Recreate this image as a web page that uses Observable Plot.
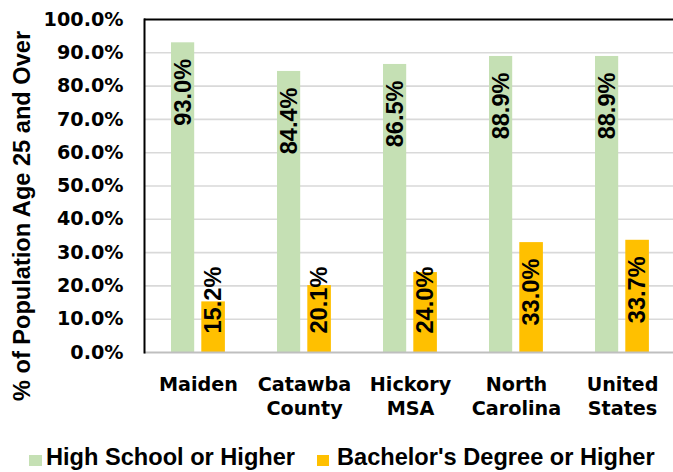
<!DOCTYPE html>
<html>
<head>
<meta charset="utf-8">
<script src="https://cdn.jsdelivr.net/npm/d3@7"></script>
<script src="https://cdn.jsdelivr.net/npm/@observablehq/plot@0.6"></script>
<style>
  html, body { margin: 0; padding: 0; background: #fff; overflow: hidden; }
  #wrap { position: relative; width: 673px; height: 472px; }
  .lg-sw { position: absolute; width: 12.4px; height: 11.3px; top: 454.7px; }
  .lg-tx { position: absolute; top: 445.5px; font-family: "Liberation Sans", Arial, sans-serif; font-weight: bold; font-size: 23.6px; line-height: 1; white-space: nowrap; color: #000; }
</style>
</head>
<body>
<div id="wrap"></div>
<script>
const categories = ["Maiden", "Catawba County", "Hickory MSA", "North Carolina", "United States"];
const tickLabels = ["Maiden", "Catawba\nCounty", "Hickory\nMSA", "North\nCarolina", "United\nStates"];
const highSchool = [0.930, 0.844, 0.865, 0.889, 0.889];
const bachelor = [0.152, 0.201, 0.240, 0.330, 0.337];
const seriesNames = ["High School or Higher", "Bachelor's Degree or Higher"];
const seriesColors = ["#C5E0B4", "#FFC000"];
const yTicks = [0, 0.1, 0.2, 0.3, 0.4, 0.5, 0.6, 0.7, 0.8, 0.9, 1.0];
const yTitle = "% of Population Age 25 and Over";

const hsData = categories.map((c, i) => ({cat: c, v: highSchool[i]}));
const baData = categories.map((c, i) => ({cat: c, v: bachelor[i]}));

const marginTop = 19, height = 430, marginBottom = 78;
const plotH = height - marginTop - marginBottom;
const fmt = d3.format(".1%");
// label fits inside end of bar when bar tall enough
const fits = d => d.v * plotH >= 102;

const labelFont = {fontFamily: "Liberation Sans, Arial, sans-serif", fontWeight: "bold", fontSize: 23.6, fill: "black"};
const axisFont = {fontFamily: "DejaVu Sans, sans-serif", fontWeight: "bold", fontSize: 19.2, fill: "black"};

function labels(data, dx) {
  return [
    Plot.text(data.filter(fits), {x: "cat", y: "v", text: d => fmt(d.v), rotate: -90, textAnchor: "end", dy: 16, dx, ...labelFont}),
    Plot.text(data.filter(d => !fits(d)), {x: "cat", y: () => 0, text: d => fmt(d.v), rotate: -90, textAnchor: "start", dy: -19, dx, ...labelFont})
  ];
}

const chart = Plot.plot({
  width: 673,
  height,
  marginTop,
  marginBottom,
  marginLeft: 144,
  marginRight: 0,
  style: {background: "white"},
  x: {domain: categories, range: [145, 675.2], padding: 0, axis: null},
  y: {domain: [0, 1], axis: null},
  marks: [
    Plot.gridY(yTicks.slice(1, -1), {stroke: "#D9D9D9", strokeOpacity: 1, strokeWidth: 1.6}),
    Plot.barY(hsData, {x: "cat", y: "v", fill: seriesColors[0], insetLeft: 26, insetRight: 56.8}),
    Plot.barY(baData, {x: "cat", y: "v", fill: seriesColors[1], insetLeft: 56.3, insetRight: 26.1}),
    Plot.ruleY([0], {stroke: "#BFBFBF", strokeWidth: 2}),
    Plot.ruleY([1], {stroke: "black", strokeWidth: 2}),
    Plot.frame({anchor: "left", stroke: "black", strokeWidth: 2}),
    ...labels(hsData, -15.4),
    ...labels(baData, 15.1),
    Plot.axisY(yTicks, {tickFormat: fmt, tickSize: 0, tickPadding: 21, label: null, ...axisFont}),
    Plot.axisX(categories, {tickFormat: d => tickLabels[categories.indexOf(d)], tickSize: 0, tickPadding: 21, lineHeight: 1.26, label: null, ...axisFont}),
    Plot.text([yTitle], {frameAnchor: "left", textAnchor: "middle", rotate: -90, dx: -122, dy: 30, text: d => d, ...labelFont})
  ]
});

const wrap = document.getElementById("wrap");
wrap.appendChild(chart);

const swLeft = [29.3, 316.7];
const txLeft = [46, 337];
seriesNames.forEach((name, i) => {
  const sw = document.createElement("div");
  sw.className = "lg-sw";
  sw.style.left = swLeft[i] + "px";
  sw.style.background = seriesColors[i];
  wrap.appendChild(sw);
  const tx = document.createElement("div");
  tx.className = "lg-tx";
  tx.style.left = txLeft[i] + "px";
  tx.textContent = name;
  wrap.appendChild(tx);
});
</script>
</body>
</html>
